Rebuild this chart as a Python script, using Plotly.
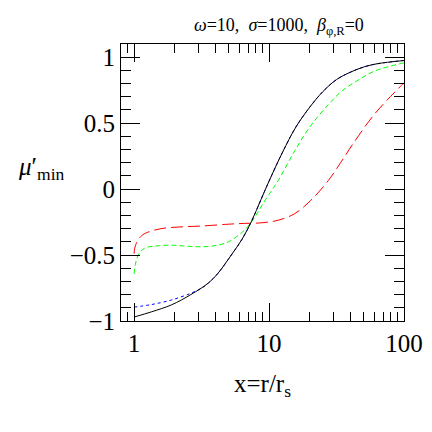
import plotly.graph_objects as go

# values
black_x = [1, 1.35, 1.9, 2.63, 3.55, 4.17, 5.25, 6.31, 7.41, 8.71, 10, 12.6, 15.8, 20, 25.1, 31.6, 39.8, 50.1, 63.1, 100]
black_y = [-0.97, -0.93, -0.877, -0.80, -0.712, -0.64, -0.50, -0.38, -0.245, -0.08, 0.06, 0.28, 0.47, 0.62, 0.74, 0.83, 0.885, 0.925, 0.95, 0.975]

blue_x = [1, 1.35, 1.9, 2.63, 3.2, 3.55, 4.17, 5.25, 6.31, 7.41, 8.71, 10, 12.6, 15.8, 20, 25.1, 31.6, 39.8, 50.1, 63.1, 100]
blue_y = [-0.895, -0.875, -0.84, -0.79, -0.748, -0.712, -0.64, -0.50, -0.38, -0.245, -0.08, 0.06, 0.28, 0.47, 0.62, 0.74, 0.83, 0.885, 0.925, 0.95, 0.975]

green_x = [1, 1.023, 1.072, 1.15, 1.26, 1.51, 1.9, 2.4, 2.95, 3.55, 4.17, 5.01, 5.75, 6.61, 7.76, 8.71, 10, 11.7, 15.5, 20, 27.5, 34.7, 44.7, 60.3, 100]
green_y = [-0.643, -0.57, -0.5, -0.46, -0.44, -0.43, -0.425, -0.432, -0.437, -0.435, -0.425, -0.40, -0.36, -0.31, -0.22, -0.136, -0.04, 0.065, 0.29, 0.47, 0.64, 0.744, 0.82, 0.894, 0.957]

red_x = [1, 1.01, 1.04, 1.096, 1.2, 1.58, 2.19, 3.16, 5.01, 6.61, 8.71, 11.7, 15.5, 20.4, 27.5, 33.9, 41.7, 60.3, 100]
red_y = [-0.49, -0.45, -0.41, -0.37, -0.337, -0.30, -0.287, -0.28, -0.266, -0.26, -0.256, -0.236, -0.186, -0.085, 0.065, 0.2, 0.34, 0.567, 0.806]

y_ticks = [1, 0.5, 0, -0.5, -1]
y_tick_text = ["1", "0.5", "0", "\u22120.5", "\u22121"]
x_ticks = [1, 10, 100]
x_tick_text = ["1", "10", "100"]
x_minor = [0.8, 0.9, 2, 3, 4, 5, 6, 7, 8, 9, 20, 30, 40, 50, 60, 70, 80, 90]

serif = "Liberation Serif"

fig = go.Figure()
fig.add_trace(go.Scatter(x=red_x, y=red_y, mode="lines", line=dict(color="#ff0000", width=1, dash="12px,5px"), line_shape="spline"))
fig.add_trace(go.Scatter(x=green_x, y=green_y, mode="lines", line=dict(color="#00ff00", width=1, dash="5px,3px"), line_shape="spline"))
fig.add_trace(go.Scatter(x=blue_x, y=blue_y, mode="lines", line=dict(color="#0000ff", width=1, dash="dot"), line_shape="spline"))
fig.add_trace(go.Scatter(x=black_x, y=black_y, mode="lines", line=dict(color="black", width=1), line_shape="spline"))

fig.update_layout(
    width=432, height=432,
    margin=dict(l=113, r=36, t=36, b=119),
    paper_bgcolor="white", plot_bgcolor="white",
    showlegend=False,
    font=dict(family=serif, color="black"),
)
fig.update_xaxes(
    type="log", range=[-0.0969, 2],
    tickvals=x_ticks, ticktext=x_tick_text,
    ticks="inside", ticklen=18, tickwidth=1, tickcolor="black",
    minor=dict(tickvals=x_minor, ticks="inside", ticklen=9, tickwidth=1, tickcolor="black", showgrid=False),
    showline=True, linecolor="black", linewidth=1, mirror="allticks",
    showgrid=False, zeroline=False,
    tickfont=dict(size=25, family=serif),
)
fig.update_yaxes(
    range=[-1, 1.1],
    tickvals=y_ticks, ticktext=y_tick_text,
    ticks="inside", ticklen=19, tickwidth=1, tickcolor="black",
    minor=dict(ticks="inside", ticklen=10, dtick=0.1, tickwidth=1, tickcolor="black", showgrid=False),
    showline=True, linecolor="black", linewidth=1, mirror="allticks",
    showgrid=False, zeroline=False,
    tickfont=dict(size=25, family=serif),
)

fig.add_annotation(text="<i>\u03c9</i>=10,  <i>\u03c3</i>=1000,  <i>\u03b2</i><sub>\u03c6,R</sub>=0",
                   xref="paper", yref="paper", x=0.56, y=1.0, yshift=4, xanchor="center", yanchor="bottom",
                   showarrow=False, font=dict(size=18, family=serif))
fig.add_annotation(text="<i>\u03bc</i>\u2032<sub>min</sub>",
                   xref="paper", yref="paper", x=-0.37, y=0.55, xanchor="left", yanchor="middle",
                   showarrow=False, font=dict(size=25, family=serif))
fig.add_annotation(text="x=r/r<sub>s</sub>",
                   xref="paper", yref="paper", x=0.5, y=-0.17, xanchor="center", yanchor="top",
                   showarrow=False, font=dict(size=25, family=serif))

fig.write_html("out.html")
